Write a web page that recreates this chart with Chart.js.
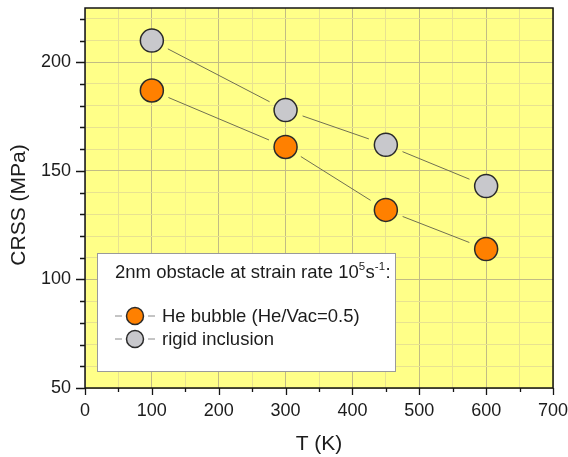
<!DOCTYPE html>
<html>
<head>
<meta charset="utf-8">
<script src="https://cdn.jsdelivr.net/npm/chart.js@4.4.1/dist/chart.umd.min.js"></script>
<style>
  html, body { margin: 0; padding: 0; background: #ffffff; }
  #wrap { width: 568px; height: 457px; }
</style>
</head>
<body>
<div id="wrap"><canvas id="c" width="568" height="457"></canvas></div>
<script>
// Critical resolved shear stress vs temperature for a 2 nm obstacle
const temperatures = [100, 300, 450, 600];
const heBubbleCRSS = [187, 161, 132, 114];
const rigidInclusionCRSS = [210, 178, 162, 143];
const seriesLabels = ['He bubble (He/Vac=0.5)', 'rigid inclusion'];
const seriesColors = ['#ff8000', '#c8c8cc'];
const legendTitle = ['2nm obstacle at strain rate 10', '5', 's', '-1', ':'];
const xTickLabels = [0, 100, 200, 300, 400, 500, 600, 700];
const yTickLabels = [50, 100, 150, 200];
const xAxisTitle = 'T (K)';
const yAxisTitle = 'CRSS (MPa)';

const X_MIN = 0, X_MAX = 700, X_MINOR = 50;
const Y_MIN = 50, Y_MAX = 225, Y_MINOR = 10;
const FONT = "'Liberation Sans', Arial, sans-serif";
const TEXT = '#1c1c1c';

function minorValues(min, max, step) {
  const out = [];
  for (let v = min; v <= max + 1e-9; v += step) out.push(v);
  return out;
}

const toPoints = (ys) => temperatures.map((t, i) => ({ x: t, y: ys[i] }));

// Yellow plot background
const plotBackground = {
  id: 'plotBackground',
  beforeDraw(chart) {
    const { ctx, chartArea: a } = chart;
    ctx.save();
    ctx.fillStyle = '#ffff88';
    ctx.fillRect(a.left, a.top, a.right - a.left, a.bottom - a.top);
    ctx.restore();
  }
};

// Connecting lines that stop short of each marker
const gappedLines = {
  id: 'gappedLines',
  beforeDatasetsDraw(chart) {
    const { ctx } = chart;
    const gap = 18;
    ctx.save();
    ctx.strokeStyle = '#707052';
    ctx.lineWidth = 1;
    chart.data.datasets.forEach((ds, di) => {
      const pts = chart.getDatasetMeta(di).data;
      for (let i = 0; i < pts.length - 1; i++) {
        const p = pts[i], q = pts[i + 1];
        const dx = q.x - p.x, dy = q.y - p.y;
        const len = Math.hypot(dx, dy);
        if (len <= 2 * gap) continue;
        const ux = dx / len, uy = dy / len;
        ctx.beginPath();
        ctx.moveTo(p.x + ux * gap, p.y + uy * gap);
        ctx.lineTo(q.x - ux * gap, q.y - uy * gap);
        ctx.stroke();
      }
    });
    ctx.restore();
  }
};

// Frame, outward tick marks, vertical axis title and the boxed legend
const frameAndLegend = {
  id: 'frameAndLegend',
  afterDatasetsDraw(chart) {
    const { ctx, chartArea: a, scales } = chart;
    const xs = scales.x, ys = scales.y;
    ctx.save();
    ctx.strokeStyle = '#141414';
    ctx.lineWidth = 1.5;
    ctx.strokeRect(a.left, a.top, a.right - a.left, a.bottom - a.top);

    ctx.lineWidth = 1.3;
    ctx.beginPath();
    minorValues(X_MIN, X_MAX, X_MINOR).forEach(v => {
      const px = Math.round(xs.getPixelForValue(v)) + 0.5;
      const len = xTickLabels.includes(v) ? 7 : 4;
      ctx.moveTo(px, a.bottom);
      ctx.lineTo(px, a.bottom + len);
    });
    minorValues(Y_MIN, 220, Y_MINOR).forEach(v => {
      const py = Math.round(ys.getPixelForValue(v)) + 0.5;
      const len = yTickLabels.includes(v) ? 9 : 5;
      ctx.moveTo(a.left, py);
      ctx.lineTo(a.left - len, py);
    });
    ctx.stroke();

    // vertical axis title, set slightly below the axis midpoint
    ctx.save();
    ctx.translate(19, (a.top + a.bottom) / 2 + 7);
    ctx.rotate(-Math.PI / 2);
    ctx.font = '21px ' + FONT;
    ctx.fillStyle = TEXT;
    ctx.textAlign = 'center';
    ctx.textBaseline = 'middle';
    ctx.fillText(yAxisTitle, 0, 0);
    ctx.restore();

    // legend box
    const bx = a.left + 12, by = a.top + 245, bw = 298, bh = 118;
    ctx.fillStyle = '#ffffff';
    ctx.fillRect(bx, by, bw, bh);
    ctx.strokeStyle = '#9a9a9a';
    ctx.lineWidth = 1;
    ctx.strokeRect(bx + 0.5, by + 0.5, bw, bh);

    ctx.fillStyle = TEXT;
    ctx.textBaseline = 'alphabetic';
    ctx.textAlign = 'left';
    const big = '18.5px ' + FONT, small = '11.5px ' + FONT;
    let tx = bx + 18;
    const ty = by + 25;
    legendTitle.forEach((part, i) => {
      const sup = (i === 1 || i === 3);
      ctx.font = sup ? small : big;
      ctx.fillText(part, tx, sup ? ty - 8 : ty);
      tx += ctx.measureText(part).width + (sup ? 0.5 : 0);
    });

    ctx.font = big;
    seriesLabels.forEach((label, i) => {
      const cy = by + 63 + i * 23;
      const cx = bx + 38;
      ctx.strokeStyle = '#8a8a8a';
      ctx.lineWidth = 1;
      ctx.beginPath();
      ctx.moveTo(cx - 20, cy); ctx.lineTo(cx - 13, cy);
      ctx.moveTo(cx + 13, cy); ctx.lineTo(cx + 20, cy);
      ctx.stroke();
      ctx.beginPath();
      ctx.arc(cx, cy, 8.5, 0, Math.PI * 2);
      ctx.fillStyle = seriesColors[i];
      ctx.fill();
      ctx.strokeStyle = '#2a2a2a';
      ctx.lineWidth = 1.5;
      ctx.stroke();
      ctx.fillStyle = TEXT;
      ctx.fillText(label, bx + 65, cy + 6);
    });
    ctx.restore();
  }
};

new Chart(document.getElementById('c'), {
  type: 'scatter',
  data: {
    datasets: [
      { label: seriesLabels[0], data: toPoints(heBubbleCRSS), backgroundColor: seriesColors[0] },
      { label: seriesLabels[1], data: toPoints(rigidInclusionCRSS), backgroundColor: seriesColors[1] }
    ]
  },
  options: {
    responsive: false,
    animation: false,
    layout: { autoPadding: false, padding: { left: 0, right: 15, top: 8, bottom: 0 } },
    elements: {
      point: { radius: 11.5, hoverRadius: 11.5, borderWidth: 1.5, borderColor: '#2a2a2a' }
    },
    plugins: { legend: { display: false }, tooltip: { enabled: false } },
    scales: {
      x: {
        type: 'linear', min: X_MIN, max: X_MAX,
        afterBuildTicks(s) { s.ticks = minorValues(X_MIN, X_MAX, X_MINOR).map(v => ({ value: v })); },
        afterFit(s) { s.height = 69; s.paddingLeft = 0; s.paddingRight = 0; },
        border: { display: false },
        grid: {
          drawTicks: false,
          color: c => (c.tick && xTickLabels.includes(c.tick.value)) ? '#c2bc84' : '#e8e290',
          lineWidth: 1
        },
        ticks: {
          padding: 12, color: TEXT, font: { family: FONT, size: 18 },
          autoSkip: false, maxRotation: 0,
          callback: v => xTickLabels.includes(v) ? String(v) : ''
        },
        title: {
          display: true, text: xAxisTitle, color: TEXT,
          font: { family: FONT, size: 21 }, padding: { top: 0, bottom: 0 }
        }
      },
      y: {
        type: 'linear', min: Y_MIN, max: Y_MAX,
        afterBuildTicks(s) { s.ticks = minorValues(Y_MIN, 220, Y_MINOR).map(v => ({ value: v })); },
        afterFit(s) { s.width = 85; s.paddingTop = 0; s.paddingBottom = 0; },
        border: { display: false },
        grid: {
          drawTicks: false,
          color: c => (c.tick && yTickLabels.includes(c.tick.value)) ? '#c2bc84' : '#e8e290',
          lineWidth: 1
        },
        ticks: {
          padding: 14, color: TEXT, font: { family: FONT, size: 18 },
          autoSkip: false,
          callback: v => yTickLabels.includes(v) ? String(v) : ''
        },
        title: { display: false }
      }
    }
  },
  plugins: [plotBackground, gappedLines, frameAndLegend]
});
</script>
</body>
</html>
